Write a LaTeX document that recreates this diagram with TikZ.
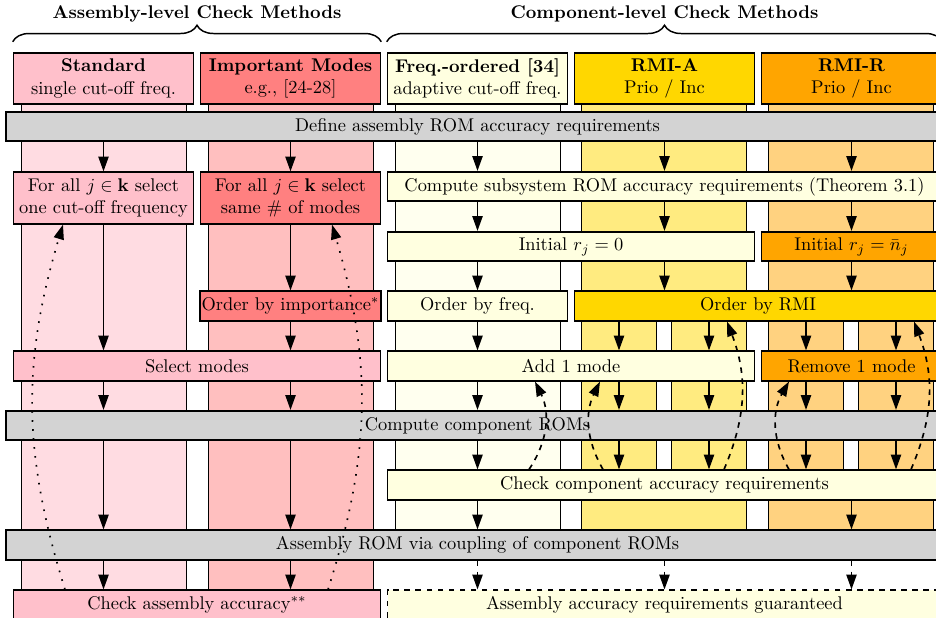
\documentclass[tikz,border=0pt]{standalone}
\usetikzlibrary{arrows.meta,decorations.pathreplacing}

\definecolor{stdcol}{RGB}{255,192,203}
\definecolor{impcol}{RGB}{255,128,128}
\definecolor{frqcol}{RGB}{255,255,224}
\definecolor{rmiacol}{RGB}{255,215,0}
\definecolor{rmircol}{RGB}{255,165,0}
\definecolor{barcol}{RGB}{211,211,211}
\colorlet{stdbg}{stdcol!55}
\colorlet{impbg}{impcol!50}
\colorlet{frqbg}{frqcol!50}
\colorlet{rmiabg}{rmiacol!50}
\colorlet{rmirbg}{rmircol!50}

\begin{document}
\begin{tikzpicture}[x=0.5435pt, y=-0.5435pt,
    box/.style={draw, line width=0.9pt, align=center, inner sep=1pt, minimum height=16pt},
    hbox/.style={box, minimum height=28pt},
    bar/.style={box, fill=barcol, minimum width=512.5pt},
    w1/.style={minimum width=97.8pt},
    w2/.style={minimum width=199.5pt},
    w3/.style={minimum width=301.1pt},
    arr/.style={line width=0.9pt, -{Triangle[length=8pt,width=5.5pt]}},
    fb/.style={arr, dashed},
    fbdot/.style={arr, loosely dotted},
    brc/.style={thick, decorate, decoration={brace, amplitude=9pt}}]

    \useasboundingbox (0,0) rectangle (936,618);
    \clip (0,0) rectangle (936,618);

    % Column backgrounds
    \foreach \x/\c in {21.5/stdbg, 208.5/impbg}
        \filldraw[line width=0.9pt, fill=\c] (\x,90) rectangle ++(165,560);
    \filldraw[line width=0.9pt, fill=frqbg] (395.5,90) rectangle (560.5,545);
    \foreach \x/\c in {581.5/rmiabg, 768.5/rmirbg} {
        \filldraw[line width=0.9pt, fill=\c] (\x,90) rectangle ++(165,216);
        \filldraw[line width=0.9pt, fill=\c] (\x,306) rectangle ++(75,179);
        \filldraw[line width=0.9pt, fill=\c] (\x+90,306) rectangle ++(75,179);
        \filldraw[line width=0.9pt, fill=\c] (\x,485) rectangle ++(165,60);
    }

    % Column centres
    \foreach \n/\x in {c1/103.5, c2/290.5, c3/477.5, c4/664.5, c5/851.5,
                       c4a/619, c4b/709, c5a/806, c5b/896}
        \coordinate (\n) at (\x,0);

    % Method headers
    \node[hbox, w1, fill=stdcol] (hstd) at (103.5,78.5) {\textbf{Standard}\\single cut-off freq.};
    \node[hbox, w1, fill=impcol] (himp) at (290.5,78.5) {\textbf{Important Modes}\\e.g., [24-28]};
    \node[hbox, w1, fill=frqcol] (hfrq) at (477.5,78.5) {\textbf{Freq.-ordered [34]}\\adaptive cut-off freq.};
    \node[hbox, w1, fill=rmiacol] (hrmia) at (664.5,78.5) {\textbf{RMI-A}\\Prio / Inc};
    \node[hbox, w1, fill=rmircol] (hrmir) at (851.5,78.5) {\textbf{RMI-R}\\Prio / Inc};

    % Braces and titles
    \draw[brc] ([yshift=5.5pt]hstd.north west) -- ([yshift=5.5pt]himp.north east);
    \draw[brc] ([yshift=5.5pt]hfrq.north west) -- ([yshift=5.5pt]hrmir.north east);
    \node[font=\bfseries] (tasm) at (197,14) {Assembly-level Check Methods};
    \node[font=\bfseries] (tcmp) at (664.5,14) {Component-level Check Methods};

    % Steps
    \node[bar] (define) at (477.5,126.5) {Define assembly ROM accuracy requirements};
    \node[hbox, w1, fill=stdcol] (selstd) at (103.5,198) {For all $j \in \mathbf{k}$ select\\one cut-off frequency};
    \node[hbox, w1, fill=impcol] (selimp) at (290.5,198) {For all $j \in \mathbf{k}$ select\\same \# of modes};
    \node[box, w3, fill=frqcol] (subreq) at (664.5,186.5) {Compute subsystem ROM accuracy requirements (Theorem 3.1)};
    \node[box, w2, fill=frqcol] (initA) at (571,246.5) {Initial $r_j = 0$};
    \node[box, w1, fill=rmircol] (initR) at (851.5,246.5) {Initial $r_j = \bar{n}_j$};
    \node[box, w1, fill=impcol] (ordimp) at (290.5,306) {Order by importance$^*$};
    \node[box, w1, fill=frqcol] (ordfrq) at (477.5,306) {Order by freq.};
    \node[box, w2, fill=rmiacol] (ordrmi) at (758,306) {Order by RMI};
    \node[box, w2, fill=stdcol] (selmod) at (197,366) {Select modes};
    \node[box, w2, fill=frqcol] (addmod) at (571,366) {Add 1 mode};
    \node[box, w1, fill=rmircol] (remmod) at (851.5,366) {Remove 1 mode};
    \node[bar] (comprom) at (477.5,425.5) {Compute component ROMs};
    \node[box, w3, fill=frqcol] (chkcmp) at (664.5,485) {Check component accuracy requirements};
    \node[bar] (asmrom) at (477.5,545) {Assembly ROM via coupling of component ROMs};
    \node[box, w2, fill=stdcol] (chkasm) at (197,605) {Check assembly accuracy$^{**}$};
    \node[box, w3, fill=frqcol, dashed] (guar) at (664.5,605) {Assembly accuracy requirements guaranteed};

    % Flow arrows
    \foreach \a/\b in {define/selstd, selstd/selmod, selmod/comprom, comprom/asmrom, asmrom/chkasm}
        \draw[arr] (\a.south -| c1) -- (\b.north -| c1);
    \foreach \a/\b in {define/selimp, selimp/ordimp, ordimp/selmod, selmod/comprom, comprom/asmrom, asmrom/chkasm}
        \draw[arr] (\a.south -| c2) -- (\b.north -| c2);
    \foreach \a/\b in {define/subreq, subreq/initA, initA/ordfrq, ordfrq/addmod, addmod/comprom, comprom/chkcmp, chkcmp/asmrom}
        \draw[arr] (\a.south -| c3) -- (\b.north -| c3);
    \foreach \a/\b in {define/subreq, subreq/initA, initA/ordrmi}
        \draw[arr] (\a.south -| c4) -- (\b.north -| c4);
    \foreach \a/\b in {define/subreq, subreq/initR, initR/ordrmi, chkcmp/asmrom}
        \draw[arr] (\a.south -| c5) -- (\b.north -| c5);
    \foreach \c in {c4a, c4b}
        \foreach \a/\b in {ordrmi/addmod, addmod/comprom, comprom/chkcmp}
            \draw[arr] (\a.south -| \c) -- (\b.north -| \c);
    \foreach \c in {c5a, c5b}
        \foreach \a/\b in {ordrmi/remmod, remmod/comprom, comprom/chkcmp}
            \draw[arr] (\a.south -| \c) -- (\b.north -| \c);
    \foreach \c in {c3, c4, c5}
        \draw[arr, dashed] (asmrom.south -| \c) -- (guar.north -| \c);

    % Feedback loops
    \foreach \n/\x in {p1/529, q1/535, p2/603, q2/600, p3/724, q3/727, p4/789, q4/789,
                       p5/911, q5/914, p6/65, q6/63, p7/328, q7/332}
        \coordinate (\n) at (\x,0);
    \draw[fb] (chkcmp.north -| p1) to[bend right=30] (addmod.south -| q1);
    \draw[fb] (chkcmp.north -| p2) to[bend left=28] (addmod.south -| q2);
    \draw[fb] (chkcmp.north -| p3) to[bend right=22] (ordrmi.south -| q3);
    \draw[fb] (chkcmp.north -| p4) to[bend left=30] (remmod.south -| q4);
    \draw[fb] (chkcmp.north -| p5) to[bend right=22] (ordrmi.south -| q5);
    \draw[fbdot] (chkasm.north -| p6) to[bend left=17] (selstd.south -| q6);
    \draw[fbdot] (chkasm.north -| p7) to[bend right=17] (selimp.south -| q7);
\end{tikzpicture}
\end{document}
